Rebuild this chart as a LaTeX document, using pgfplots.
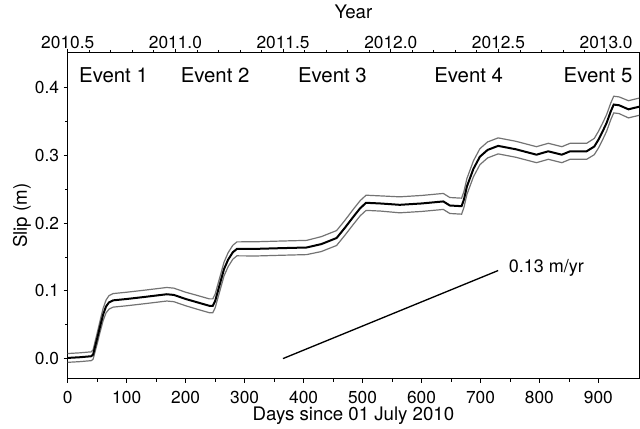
\documentclass[border=0pt]{standalone}
\usepackage{pgfplots}
\pgfplotsset{compat=1.18}
\usepackage{fontspec}
\setmainfont{TeX Gyre Heros}
\begin{document}
\begin{tikzpicture}
\pgfplotsset{
  common/.style={
    width=428.5pt, height=244.7pt, scale only axis,
    /pgf/number format/assume math mode=true,
    tick align=outside,
    major tick length=3pt, minor tick length=2pt,
    tick style={black, line width=0.6pt},
    axis line style={line width=0.7pt},
    ticklabel style={font=\fontsize{13}{15}\selectfont},
    label style={font=\fontsize{14}{16}\selectfont},
  }
}
\begin{axis}[common,
  xmin=0, xmax=969, ymin=-0.03, ymax=0.4516,
  xtick={0,100,...,900}, minor x tick num=1,
  ytick={0,0.1,0.2,0.3,0.4}, minor y tick num=1,
  xtick pos=bottom, ytick pos=left,
  xticklabel style={yshift=-3pt},
  yticklabel style={/pgf/number format/fixed, /pgf/number format/precision=1, /pgf/number format/fixed zerofill},
  xlabel={Days since 01 July 2010},
  ylabel={Slip (m)},
  xlabel style={at={(axis description cs:0.5,-0.112)}, anchor=center},
  ylabel style={at={(axis description cs:-0.08,0.5)}, anchor=center},
  clip=true,
]
\addplot[black!55, line width=0.9pt] coordinates {
(0,0.0075) (20,0.0085) (40,0.010) (43,0.013) (50,0.038) (55,0.0565) (60,0.074) (65,0.0865) (70,0.093) (77,0.096) (100,0.098) (130,0.101) (168,0.105) (180,0.104) (200,0.098) (220,0.0932) (240,0.0882) (246,0.0882) (250,0.0952) (258,0.1202) (265,0.1422) (272,0.1563) (280,0.1673) (287,0.1723) (320,0.1725) (360,0.1735) (405,0.1745) (430,0.180) (456,0.189) (470,0.204) (485,0.2212) (496,0.2332) (506,0.2412) (530,0.2402) (563,0.2388) (600,0.2408) (637,0.2438) (648,0.2378) (668,0.2368) (672,0.2468) (677,0.2658) (688,0.2918) (699,0.3098) (712,0.3198) (730,0.3258) (760,0.3208) (795,0.3128) (815,0.3178) (838,0.3128) (852,0.3178) (880,0.3178) (893,0.325) (900,0.3353) (907,0.3473) (914,0.3603) (921,0.3773) (926,0.3873) (935,0.3863) (951,0.3807) (970,0.3847)
};
\addplot[black!55, line width=0.9pt] coordinates {
(0,-0.0055) (20,-0.0045) (40,-0.003) (43,-0.001) (50,0.022) (55,0.0395) (60,0.056) (65,0.0675) (70,0.073) (77,0.076) (100,0.078) (130,0.081) (168,0.085) (180,0.084) (200,0.078) (220,0.0728) (240,0.0678) (246,0.0678) (250,0.0748) (258,0.0998) (265,0.1218) (272,0.1357) (280,0.1467) (287,0.1517) (320,0.1515) (360,0.1525) (405,0.1535) (430,0.158) (456,0.167) (470,0.182) (485,0.1988) (496,0.2108) (506,0.2188) (530,0.2178) (563,0.2152) (600,0.2172) (637,0.2202) (648,0.2142) (668,0.2132) (672,0.2232) (677,0.2422) (688,0.2682) (699,0.2862) (712,0.2962) (730,0.3022) (760,0.2972) (795,0.2892) (815,0.2942) (838,0.2892) (852,0.2942) (880,0.2942) (893,0.301) (900,0.3107) (907,0.3227) (914,0.3357) (921,0.3527) (926,0.3627) (935,0.3617) (951,0.3553) (970,0.3593)
};
\addplot[black, line width=1.5pt] coordinates {
(0,0.001) (20,0.002) (40,0.0035) (43,0.006) (50,0.030) (55,0.048) (60,0.065) (65,0.077) (70,0.083) (77,0.086) (100,0.088) (130,0.091) (168,0.095) (180,0.094) (200,0.088) (220,0.083) (240,0.078) (246,0.078) (250,0.085) (258,0.110) (265,0.132) (272,0.146) (280,0.157) (287,0.162) (320,0.162) (360,0.163) (405,0.164) (430,0.169) (456,0.178) (470,0.193) (485,0.210) (496,0.222) (506,0.230) (530,0.229) (563,0.227) (600,0.229) (637,0.232) (648,0.226) (668,0.225) (672,0.235) (677,0.254) (688,0.280) (699,0.298) (712,0.308) (730,0.314) (760,0.309) (795,0.301) (815,0.306) (838,0.301) (852,0.306) (880,0.306) (893,0.313) (900,0.323) (907,0.335) (914,0.348) (921,0.365) (926,0.375) (935,0.374) (951,0.368) (970,0.372)
};
\addplot[black, line width=1.0pt] coordinates {(365,0) (730,0.13)};
\node[anchor=west, font=\fontsize{13.5}{15}\selectfont] at (axis cs:740,0.134) {0.13 m/yr};
\foreach \xx/\lab in {77.7/Event 1, 250/Event 2, 449/Event 3, 680/Event 4, 899.4/Event 5} {
  \edef\tmp{\noexpand\node[font=\noexpand\fontsize{15.3}{17}\noexpand\selectfont] at (axis cs:\xx,0.418) {\lab};}
  \tmp
}
\end{axis}
\begin{axis}[common,
  xmin=2010.5, xmax=2013.153, ymin=0, ymax=1,
  axis x line*=top, hide y axis,
  xtick={2010.5,2011,2011.5,2012,2012.5,2013}, minor x tick num=4,
  xticklabel style={yshift=-3.5pt, /pgf/number format/fixed, /pgf/number format/precision=1, /pgf/number format/fixed zerofill, /pgf/number format/1000 sep={}},
  xlabel={Year},
  xlabel style={at={(axis description cs:0.5,1.125)}, anchor=center},
]
\end{axis}
\pgfresetboundingbox
\path[use as bounding box] (-50.8pt,-37.5pt) rectangle (429.2pt,284.2pt);
\end{tikzpicture}
\end{document}
